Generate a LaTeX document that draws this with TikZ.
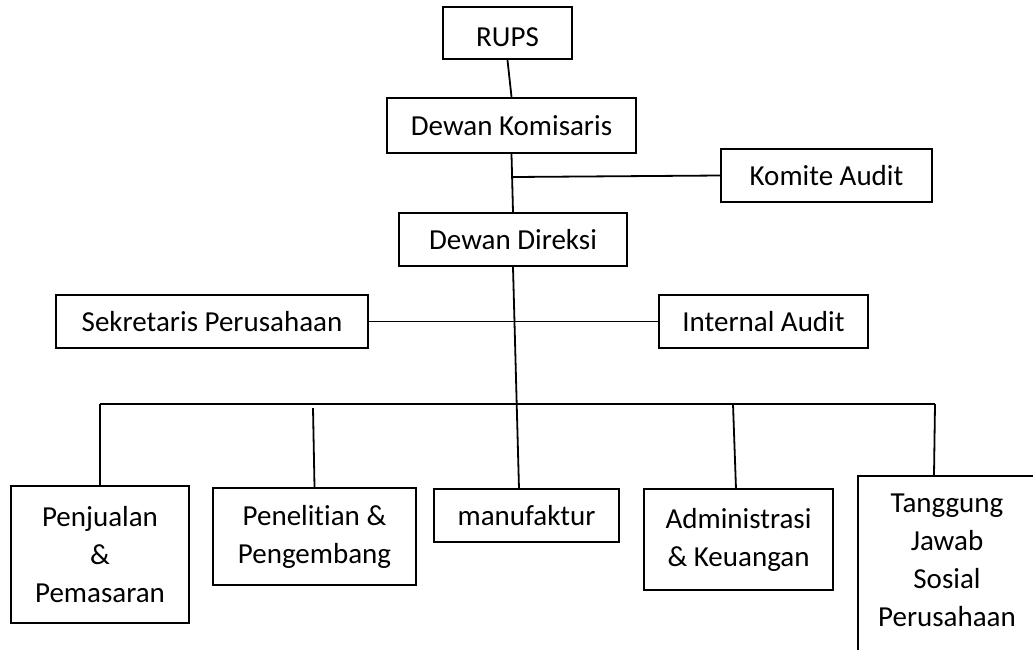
\documentclass[tikz,border=0pt]{standalone}
\usepackage{fontspec}
\setmainfont{Carlito}[Ligatures={NoCommon}]
\begin{document}
\begin{tikzpicture}[x=1pt,y=-1pt,
  unit/.style={draw,line width=2.4pt,inner sep=0pt,align=center,
    font=\fontsize{29}{38}\selectfont},
  label/.style={inner sep=0pt,align=center,font=\fontsize{29}{38}\selectfont},
  link/.style={line width=1.8pt}]
\useasboundingbox (0,0) rectangle (1033,649);
\clip (0,0) rectangle (1033,649);

% top of the hierarchy
\node[unit,minimum width=129pt,minimum height=52pt] (rups) at (507.5,33) {\raisebox{-4pt}[\height][\depth]{RUPS}};
\node[unit,minimum width=249pt,minimum height=55pt] (kom) at (511.5,125.5) {Dewan Komisaris};
\node[unit,minimum width=211pt,minimum height=53pt] (komite) at (826.5,175.5) {Komite Audit};
\node[unit,minimum width=228pt,minimum height=53pt] (dir) at (513,239.5) {Dewan Direksi};

% staff units
\node[unit,minimum width=312pt,minimum height=53pt] (sek) at (212,321.5) {Sekretaris Perusahaan};
\node[unit,minimum width=209pt,minimum height=53pt] (ia) at (763.5,321.5) {Internal Audit};

% divisions
\node[unit,minimum width=178pt,minimum height=137pt] (penj) at (100,554.5) {Penjualan\\\&\\Pemasaran};
\node[unit,minimum width=203pt,minimum height=97pt] (pen) at (314.5,536.5) {Penelitian \&\\Pengembang};
\node[unit,minimum width=185pt,minimum height=53pt] (manu) at (526.5,515.5) {manufaktur};
\node[unit,minimum width=189pt,minimum height=101pt] (adm) at (738.5,539.5) {Administrasi\\\& Keuangan};
\node[unit,anchor=north west,minimum width=200pt,minimum height=220pt] (tj) at (857,475) {};
\node[label] (tjt) at (947,560) {Tanggung\\Jawab\\Sosial\\Perusahaan};

% connection points
\coordinate (jk) at (513,177);
\coordinate (mtop) at (519,489);
\coordinate (busL) at (100,404);
\coordinate (busR) at (935,404);
\coordinate (penTop) at (313,408);
\coordinate (admBus) at (733,404);
\coordinate (admTop) at (736,489);
\coordinate (tjTop) at (934,475);

% connectors
\draw[link] (rups.south) -- (kom.north);
\draw[link] (kom.south) -- (dir.north);
\draw[link] (jk) -- (komite.west);
\draw[link] (dir.south) -- (mtop);
\draw[link] (sek.east) -- (ia.west);
\draw[link] (busL) -- (busR);
\draw[link] (busL) -- (penj.north);
\draw[link] (penTop) -- (pen.north);
\draw[link] (admBus) -- (admTop);
\draw[link] (busR) -- (tjTop);
\end{tikzpicture}
\end{document}
